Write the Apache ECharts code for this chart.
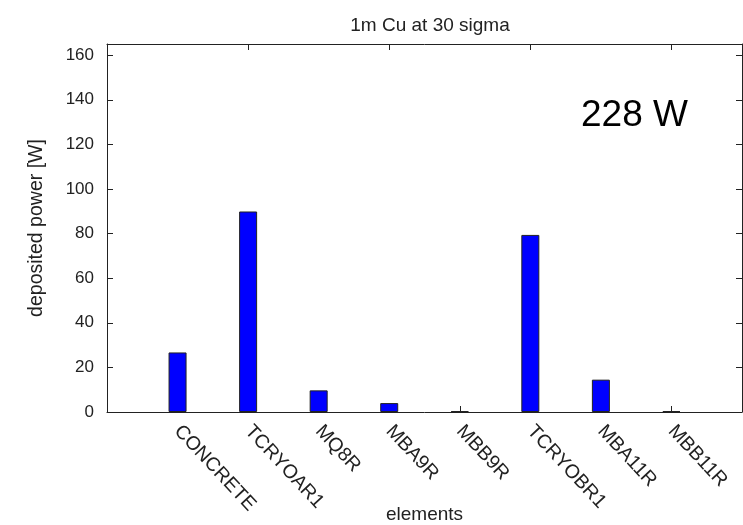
<!DOCTYPE html>
<html>
<head>
<meta charset="utf-8">
<title>1m Cu at 30 sigma</title>
<script src="https://cdn.jsdelivr.net/npm/echarts@6/dist/echarts.min.js"></script>
<style>
  html, body { margin: 0; padding: 0; background: #fff; }
  #chart { width: 743px; height: 525px; }
</style>
</head>
<body>
<div id="chart"></div>
<script>
// Deposited power per beam-line element (W)
var categories = ['CONCRETE', 'TCRYOAR1', 'MQ8R', 'MBA9R', 'MBB9R', 'TCRYOBR1', 'MBA11R', 'MBB11R'];
var powerValues = [26.7, 89.9, 9.7, 4.0, 0.4, 79.4, 14.5, 0.4];
var yTickValues = [0, 20, 40, 60, 80, 100, 120, 140, 160];
var totalLabel = '228 W';
var chartTitle = '1m Cu at 30 sigma';

// one empty slot on each side of the element list keeps the bars off the frame
var axisCats = [''].concat(categories, ['']);
var axisData = [null].concat(powerValues, [null]);

var FONT = '"Liberation Sans", Arial, Helvetica, sans-serif';
var INK = '#222';
var yMax = 165;
var yStep = yTickValues[1] - yTickValues[0];

var chart = echarts.init(document.getElementById('chart'), null, { renderer: 'canvas' });

var frameLine = { show: true, onZero: false, lineStyle: { color: INK, width: 1 } };

chart.setOption({
  animation: false,
  backgroundColor: '#fff',
  title: {
    text: chartTitle,
    left: 425,
    textAlign: 'center',
    top: 11,
    textStyle: { fontFamily: FONT, fontSize: 19, fontWeight: 'normal', color: INK }
  },
  grid: { left: 107, right: 1, top: 44, bottom: 113, containLabel: false, outerBoundsMode: 'none' },
  xAxis: [
    {
      type: 'category',
      position: 'bottom',
      data: axisCats,
      boundaryGap: false,
      name: 'elements',
      nameLocation: 'middle',
      nameGap: 93,
      nameMoveOverlap: false,
      nameTextStyle: { fontFamily: FONT, fontSize: 19, color: INK },
      axisLine: frameLine,
      axisTick: { show: true, inside: true, length: 6, lineStyle: { color: INK } },
      axisLabel: {
        rotate: -47,
        margin: 16,
        interval: 0,
        fontFamily: FONT,
        fontSize: 19.5,
        color: INK
      },
      splitLine: { show: false }
    },
    {
      type: 'category',
      position: 'top',
      data: axisCats,
      boundaryGap: false,
      axisLine: frameLine,
      axisTick: { show: true, inside: true, length: 6, lineStyle: { color: INK } },
      axisLabel: { show: false },
      splitLine: { show: false }
    }
  ],
  yAxis: [
    {
      type: 'value',
      position: 'left',
      min: 0,
      max: yMax,
      interval: yStep,
      name: 'deposited power [W]',
      nameLocation: 'middle',
      nameGap: 60,
      nameMoveOverlap: false,
      nameTextStyle: { fontFamily: FONT, fontSize: 19.5, color: INK },
      axisLine: frameLine,
      axisTick: { show: true, inside: true, length: 6, lineStyle: { color: INK } },
      axisLabel: {
        margin: 13,
        showMaxLabel: false,
        fontFamily: FONT,
        fontSize: 17,
        color: INK
      },
      splitLine: { show: false }
    },
    {
      type: 'value',
      position: 'right',
      min: 0,
      max: yMax,
      interval: yStep,
      axisLine: frameLine,
      axisTick: { show: true, inside: true, length: 6, lineStyle: { color: INK } },
      axisLabel: { show: false },
      splitLine: { show: false }
    }
  ],
  series: [
    {
      type: 'bar',
      xAxisIndex: 0,
      yAxisIndex: 0,
      data: axisData,
      barWidth: 18,
      itemStyle: { color: '#0000ff', borderColor: '#222', borderWidth: 1 }
    }
  ],
  graphic: [
    {
      type: 'text',
      x: 581,
      y: 116,
      style: {
        text: totalLabel,
        fontFamily: FONT,
        fontSize: 37,
        fill: '#000',
        verticalAlign: 'middle'
      }
    }
  ]
});
</script>
</body>
</html>
